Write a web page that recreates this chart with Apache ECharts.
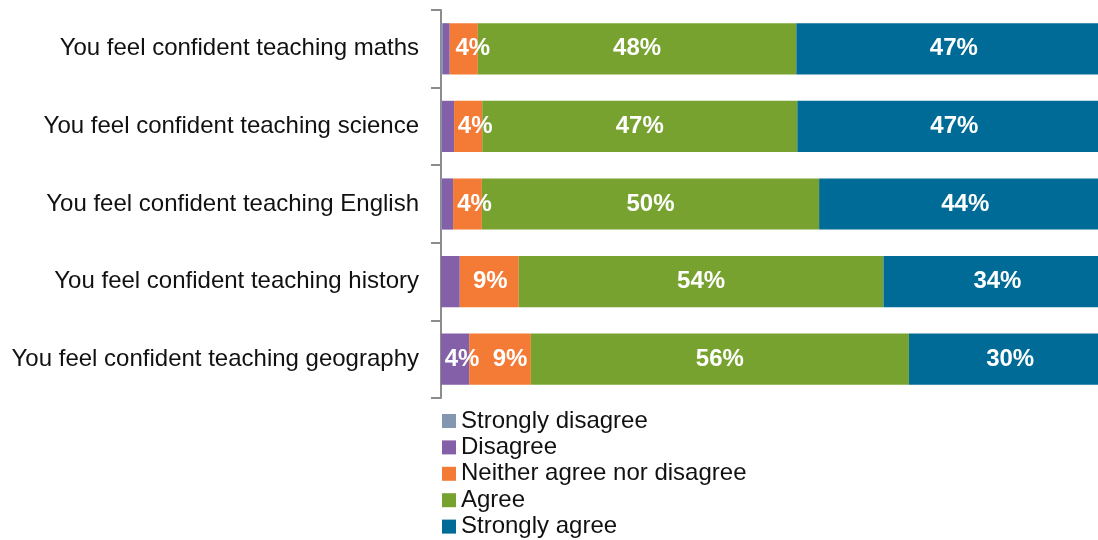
<!DOCTYPE html>
<html>
<head>
<meta charset="utf-8">
<script src="https://cdn.jsdelivr.net/npm/echarts@6/dist/echarts.min.js"></script>
<style>html,body{margin:0;padding:0;background:#fff;}#c{width:1098px;height:540px;}</style>
</head>
<body>
<div id="c"></div>
<script>
const categories = [
  'You feel confident teaching maths',
  'You feel confident teaching science',
  'You feel confident teaching English',
  'You feel confident teaching history',
  'You feel confident teaching geography'
];
const seriesNames = ['Strongly disagree', 'Disagree', 'Neither agree nor disagree', 'Agree', 'Strongly agree'];
const stronglyDisagree = [0.3, 0.15, 0.15, 0, 0];
const disagree = [1.0, 1.8, 1.65, 2.8, 4.2];
const neither = [4.2, 4.2, 4.3, 8.8, 9.2];
const agree = [47.5, 47.0, 50.3, 54.4, 56.4];
const stronglyAgree = [47.0, 46.85, 43.6, 34.0, 30.2];
const colors = ['#8497B0', '#8460A8', '#F47B36', '#78A22F', '#006B96'];

// label horizontal nudges (style only), per series per category
const labelNudge = {
  1: [0, 0, 0, 0, 7],
  2: [9, 7, 7, 1, 10]
};

const values = [stronglyDisagree, disagree, neither, agree, stronglyAgree];
const chart = echarts.init(document.getElementById('c'), null, {renderer: 'canvas'});
chart.setOption({
  animation: false,
  grid: {left: 441, right: 0, top: 10, bottom: 142, containLabel: false},
  xAxis: {type: 'value', min: 0, max: 98, show: false},
  yAxis: {
    type: 'category', data: categories, inverse: true,
    axisLine: {show: true, lineStyle: {color: '#8C8C8C', width: 2}},
    axisTick: {show: true, length: 10, lineStyle: {color: '#8C8C8C', width: 2}},
    axisLabel: {color: '#111', fontFamily: 'Liberation Sans, Arial', fontSize: 24, margin: 22}
  },
  legend: {
    orient: 'vertical', left: 442, top: 409, padding: 0, height: 131,
    itemWidth: 14, itemHeight: 14, itemGap: 2.4,
    icon: 'rect',
    data: seriesNames,
    textStyle: {color: '#111', fontFamily: 'Liberation Sans, Arial', fontSize: 24}
  },
  series: values.map((vals, i) => ({
    name: seriesNames[i], type: 'bar', stack: 'total',
    barCategoryGap: '34%',
    clip: false,
    itemStyle: {color: colors[i]},
    data: vals.map((v, j) => ({
      value: v,
      label: {offset: [labelNudge[i] ? labelNudge[i][j] : 0, 0]}
    })),
    label: {
      show: true, position: 'inside', color: '#fff', fontWeight: 'bold',
      fontFamily: 'Liberation Sans, Arial', fontSize: 24,
      formatter: p => (p.value >= 3.5 ? Math.round(p.value) + '%' : '')
    }
  }))
});
</script>
</body>
</html>
